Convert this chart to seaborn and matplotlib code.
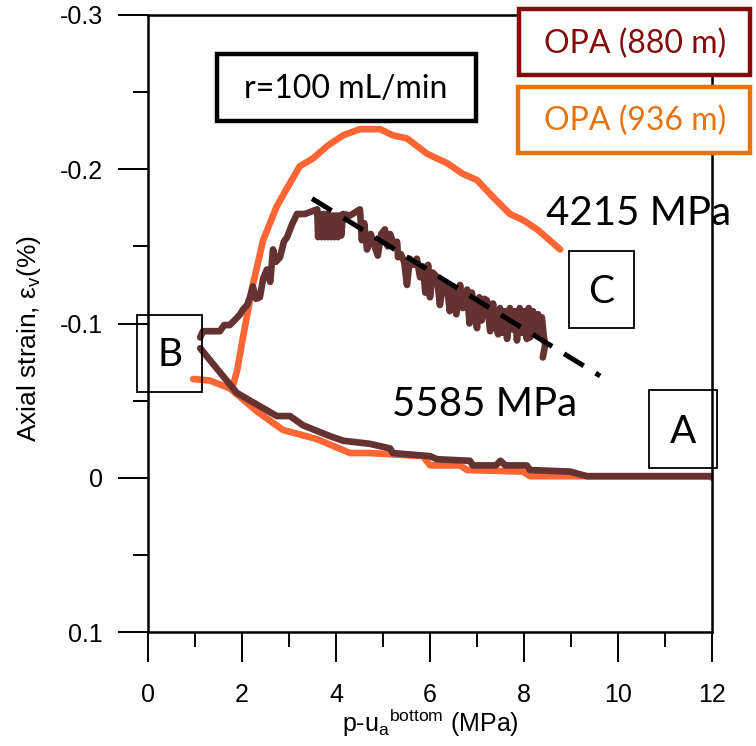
import numpy as np
import pandas as pd
import matplotlib
matplotlib.use("Agg")
import matplotlib.pyplot as plt
from matplotlib.patches import Rectangle
from matplotlib.ticker import FixedLocator, MultipleLocator
import seaborn as sns

# ---------------- data ----------------
# OPA (880 m): unloading path A -> B
opa880_unload_x = [12.0, 9.34, 8.98, 8.13, 8.06, 7.60, 7.50, 7.40, 6.91, 6.85, 6.15, 6.00, 5.21,
                   5.15, 4.72, 4.15, 3.87, 3.30, 3.02, 2.74, 1.89, 1.11]
opa880_unload_y = [-0.001, -0.001, -0.004, -0.005, -0.008, -0.008, -0.011, -0.008, -0.008, -0.011,
                   -0.012, -0.014, -0.016, -0.019, -0.022, -0.024, -0.027, -0.034, -0.040, -0.040,
                   -0.055, -0.084]
# OPA (880 m): loading path B -> C
opa880_load_x = [1.11, 1.17, 1.53, 1.62, 1.74, 1.87, 1.96, 2.02, 2.11, 2.17, 2.23, 2.30, 2.38,
                 2.45, 2.53, 2.60, 2.66, 2.72, 2.81, 2.89, 2.96, 3.06, 3.17, 3.34, 3.51,
                 3.60, 3.62, 3.66, 3.69, 3.73, 3.76, 3.80, 3.83, 3.87, 3.90, 3.94, 3.97, 4.01,
                 4.04, 4.08, 4.11, 4.15, 4.30,
                 4.51, 4.55, 4.60, 4.66, 4.74, 4.82, 4.89, 4.96, 5.04, 5.10,
                 5.15, 5.22, 5.30, 5.32, 5.38, 5.45, 5.51, 5.57, 5.64, 5.72,
                 5.79, 5.85, 5.90, 5.96, 6.00, 6.06, 6.15, 6.21, 6.28, 6.36,
                 6.42, 6.49, 6.56, 6.64, 6.70, 6.79, 6.84, 6.89, 6.95, 7.00,
                 7.05, 7.10, 7.16, 7.21, 7.28, 7.34, 7.39, 7.45, 7.49, 7.55,
                 7.60, 7.64, 7.70, 7.76, 7.81, 7.85, 7.91, 7.96, 8.00, 8.06,
                 8.10, 8.13, 8.19, 8.24, 8.30, 8.34, 8.38, 8.42, 8.45, 8.40]
opa880_load_y = [-0.091, -0.095, -0.095, -0.099, -0.099, -0.103, -0.106, -0.109, -0.112, -0.117,
                 -0.124, -0.116, -0.117, -0.129, -0.135, -0.127, -0.148, -0.140, -0.143, -0.153,
                 -0.156, -0.164, -0.171, -0.171, -0.173,
                 -0.174, -0.156, -0.171, -0.156, -0.171, -0.156, -0.171, -0.156, -0.170, -0.156,
                 -0.170, -0.156, -0.170, -0.156, -0.170, -0.157, -0.171, -0.170,
                 -0.174, -0.154, -0.165, -0.148, -0.158, -0.150, -0.144, -0.158, -0.161, -0.150,
                 -0.158, -0.152, -0.153, -0.143, -0.145, -0.140, -0.125, -0.142, -0.138, -0.142,
                 -0.130, -0.137, -0.120, -0.138, -0.117, -0.133, -0.130, -0.112, -0.126, -0.125,
                 -0.108, -0.124, -0.106, -0.125, -0.110, -0.122, -0.100, -0.120, -0.106, -0.097,
                 -0.117, -0.102, -0.116, -0.115, -0.095, -0.113, -0.100, -0.093, -0.110, -0.094,
                 -0.108, -0.090, -0.110, -0.096, -0.108, -0.089, -0.110, -0.094, -0.108, -0.090,
                 -0.110, -0.091, -0.108, -0.095, -0.106, -0.093, -0.104, -0.092, -0.086, -0.078]

# OPA (936 m): unloading path A -> B
opa936_unload_x = [12.0, 12.0, 8.13, 7.98, 6.79, 6.64, 6.00, 5.85, 4.72, 4.30, 3.60, 2.87, 2.32,
                   1.74, 1.32, 0.96]
opa936_unload_y = [0.0, -0.001, -0.001, -0.004, -0.005, -0.008, -0.008, -0.014, -0.016, -0.016,
                   -0.025, -0.031, -0.043, -0.058, -0.063, -0.064]
# OPA (936 m): loading path B -> C
opa936_load_x = [1.81, 1.90, 2.02, 2.23, 2.45, 2.74, 3.02, 3.23, 3.51, 3.81, 4.15, 4.51, 4.94,
                 5.21, 5.51, 5.94, 6.36, 6.70, 7.00, 7.34, 7.70, 7.98, 8.28, 8.62, 8.77]
opa936_load_y = [-0.060, -0.070, -0.091, -0.125, -0.154, -0.176, -0.191, -0.202, -0.207, -0.215,
                 -0.222, -0.226, -0.226, -0.222, -0.220, -0.210, -0.204, -0.197, -0.193, -0.182,
                 -0.171, -0.167, -0.161, -0.152, -0.148]

# fitted slope line
fit_x = [3.49, 9.62]
fit_y = [-0.181, -0.066]

xticks = [0, 2, 4, 6, 8, 10, 12]
yticks = [-0.3, -0.2, -0.1, 0.0, 0.1]
ytick_labels = ["-0.3", "-0.2", "-0.1", "0", "0.1"]

# ---------------- style ----------------
sns.set_style("white")
plt.rcParams["font.family"] = ["Liberation Sans", "DejaVu Sans"]
plt.rcParams["axes.unicode_minus"] = False
plt.rcParams["mathtext.fontset"] = "custom"
plt.rcParams["mathtext.rm"] = "Liberation Sans"
plt.rcParams["text.color"] = "black"
plt.rcParams["axes.labelcolor"] = "black"

W, H = 756, 746
fig = plt.figure(figsize=(W / 100, H / 100), dpi=100)
ax = fig.add_axes([148 / W, 1 - 632 / H, (712 - 148) / W, (632 - 15) / H])

c880 = "#653232"
c936 = "#FF6633"

frames = [
    (opa936_unload_x, opa936_unload_y, c936),
    (opa936_load_x, opa936_load_y, c936),
    (opa880_unload_x, opa880_unload_y, c880),
    (opa880_load_x, opa880_load_y, c880),
]
for xs, ys, col in frames:
    d = pd.DataFrame({"x": xs, "y": ys})
    sns.lineplot(data=d, x="x", y="y", sort=False, estimator=None, color=col,
                 linewidth=4.8, ax=ax, solid_joinstyle="round", solid_capstyle="round")
ax.plot(fit_x, fit_y, color="black", linewidth=3.6, ls=(0, (4.6, 2.8)))

ax.set_xlim(0, 12)
ax.set_ylim(0.1, -0.3)
ax.xaxis.set_major_locator(FixedLocator(xticks))
ax.xaxis.set_minor_locator(MultipleLocator(1))
ax.yaxis.set_major_locator(FixedLocator(yticks))
ax.yaxis.set_minor_locator(MultipleLocator(0.05))
ax.set_xticklabels([str(t) for t in xticks])
ax.set_yticklabels(ytick_labels)
ax.tick_params(which="major", direction="out", length=21.6, width=1.4, labelsize=18,
               color="black", labelcolor="black")
ax.tick_params(which="minor", direction="out", length=10.8, width=1.4, color="black")
ax.tick_params(axis="x", which="major", pad=15)
ax.tick_params(axis="y", which="major", pad=11)
ax.tick_params(left=True, bottom=True, which="both")
for s in ax.spines.values():
    s.set_linewidth(1.8)
    s.set_color("black")

ax.set_xlabel("p-u$_{\\mathregular{a}}$$^{\\mathregular{bottom}}$ (MPa)", fontsize=18, labelpad=0)
ax.set_ylabel("Axial strain, ε$_{\\mathregular{v}}$(%)", fontsize=19)
ax.yaxis.set_label_coords(-0.186, 0.476)

# ---------------- annotations ----------------
def fx(px):
    return px / W

def fy(py):
    return 1 - py / H

def box(x0, y0, x1, y1, ec, lw, fill=False):
    r = Rectangle((fx(x0), fy(y1)), fx(x1) - fx(x0), fy(y0) - fy(y1), transform=fig.transFigure,
                  fill=fill, fc="white", ec=ec, lw=lw, zorder=10)
    fig.add_artist(r)

def label(x, y, s, size, color="black"):
    fig.text(fx(x), fy(y), s, fontsize=size, color=color, ha="center", va="center",
             family=["Lato", "DejaVu Sans"], zorder=11)

# r box
box(217, 54, 476, 121, "black", 3.2, fill=True)
label(346, 89, "r=100 mL/min", 23)

# legend-like boxes
box(519, 9, 750, 75, "#850A0A", 3.2, fill=True)
label(635, 44, "OPA (880 m)", 23, "#850A0A")
box(518, 87, 750, 153, "#E8720C", 3.2, fill=True)
label(635, 121, "OPA (936 m)", 23, "#E8720C")

# point boxes
box(137, 315, 202, 392, "black", 1.3)
label(170, 355, "B", 28)
box(569, 251, 634, 328, "black", 1.3)
label(601, 292, "C", 28)
box(649, 390, 717, 468, "black", 1.3)
label(683, 432, "A", 28)

label(639, 213, "4215 MPa", 29)
label(485, 404, "5585 MPa", 29)

fig.savefig("out.png", dpi=100)
